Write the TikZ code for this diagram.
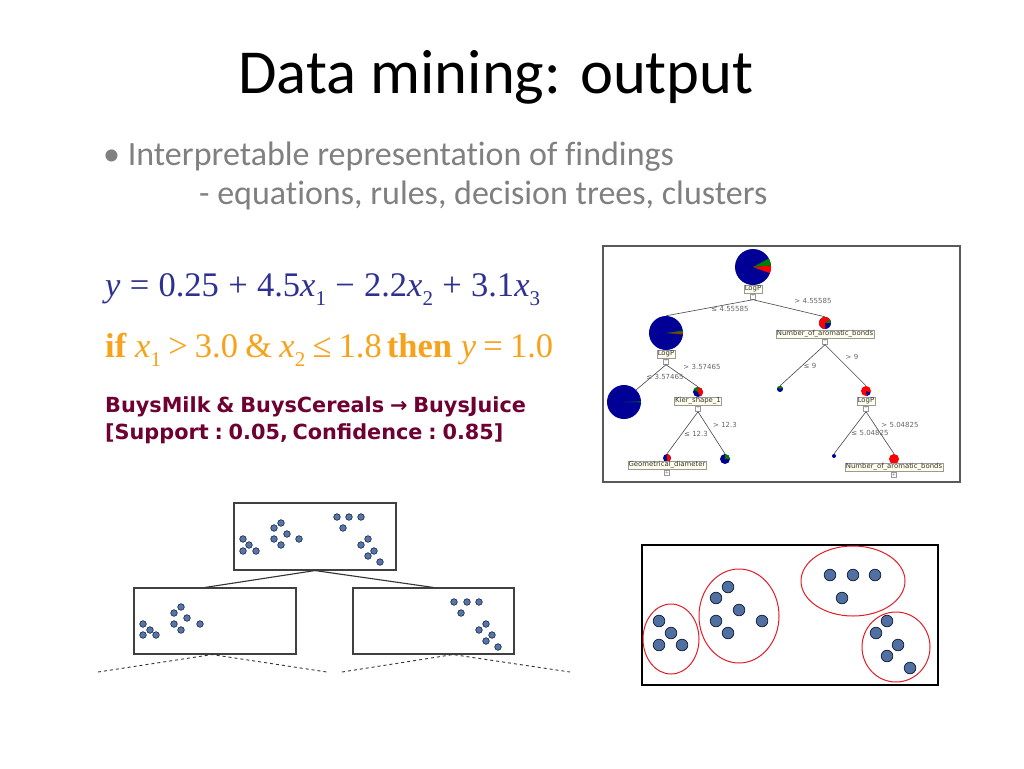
\documentclass[tikz,border=0pt]{standalone}
\usepackage{fontspec}
\setmainfont{Carlito}[Ligatures=NoCommon]
\newfontfamily\tms{Liberation Serif}
\newfontfamily\vrd{DejaVu Sans}
\usetikzlibrary{calc}
\definecolor{eqblue}{RGB}{46,49,146}
\definecolor{eqorange}{RGB}{247,162,27}
\definecolor{rulemaroon}{RGB}{110,0,50}
\definecolor{bodygray}{RGB}{128,128,128}
\definecolor{dotfill}{RGB}{85,118,170}
\definecolor{dotline}{RGB}{25,35,60}
\definecolor{clred}{RGB}{225,30,40}
\definecolor{pieblue}{RGB}{0,0,150}
\definecolor{piered}{RGB}{255,0,0}
\definecolor{piegreen}{RGB}{0,128,0}
\definecolor{boxfill}{RGB}{255,255,235}
\newcommand{\pieS}[5]{\fill[#5] (#1) -- ++(#3:#2) arc[start angle=#3,end angle=#4,radius=#2] -- cycle;}
\newcommand{\op}[1]{\hspace{0.27em}#1\hspace{0.27em}}
\newcommand{\opb}[1]{\hspace{0.21em}#1\hspace{0.21em}}
\newcommand{\sbs}[1]{\raisebox{-0.28em}{\fontsize{21}{21}\selectfont #1}}
\newcommand{\rop}[1]{\hspace{0.28em}#1\hspace{0.28em}}
\begin{document}
\begin{tikzpicture}[x=1pt,y=-1pt,
  dlabel/.style={draw=gray!80, fill=boxfill, inner sep=0.8pt, font=\vrd\fontsize{6.9}{7.5}\selectfont, text=black!80},
  tog/.style={draw=gray!80, fill=white, minimum size=5pt, inner sep=0pt, font=\vrd\fontsize{5}{5}\selectfont, text=gray},
  elab/.style={inner sep=0pt, font=\vrd\fontsize{7}{8}\selectfont, text=black!60},
  dedge/.style={draw=gray!55!black, line width=0.6pt},
  pie/.style={circle, inner sep=0pt, minimum size=#1, fill=pieblue},
  treebox/.style={draw=black!75, line width=1.1pt, rectangle, inner sep=0pt},
  tdot/.style={fill=dotfill, draw=dotline, line width=0.6pt},
  cdot/.style={fill=dotfill!95!black, draw=dotline, line width=0.8pt},
  cring/.style={draw=clred, line width=1pt}
]
\useasboundingbox[fill=white] (0,0) rectangle (1024,768);

% ---------- title and bullets ----------
\node[anchor=base, font=\fontsize{62.6}{70}\selectfont] (title) at (496,93) {Data mining: output};
\node[anchor=base west, inner sep=0pt, text=bodygray, font=\fontsize{34}{38}\selectfont] (b1) at (103,165) {\textbullet\ Interpretable representation of findings};
\node[anchor=base west, inner sep=0pt, text=bodygray, font=\fontsize{34}{38}\selectfont] (b2) at (199,204) {- equations, rules, decision trees, clusters};

% ---------- equations ----------
\node[anchor=base west, inner sep=0pt, text=eqblue, font=\tms\fontsize{34.5}{38}\selectfont] (eq1) at (105,296)
 {\textit{y}\op{=}0.25\op{+}4.5\textit{x}\sbs{1}\op{−}2.2\textit{x}\sbs{2}\op{+}3.1\textit{x}\sbs{3}};
\node[anchor=base west, inner sep=0pt, text=eqorange, font=\tms\fontsize{34.5}{38}\selectfont] (eq2) at (105,357)
 {\textbf{if}\hspace{0.25em}\textit{x}\sbs{1}\opb{>}3.0\opb{\&}\textit{x}\sbs{2}\opb{≤}1.8\hspace{0.15em}\textbf{then}\hspace{0.25em}\textit{y}\opb{=}1.0};
\node[anchor=base west, inner sep=0pt, text=rulemaroon, font=\vrd\bfseries\fontsize{20.8}{24}\selectfont] (r1) at (105,412)
 {BuysMilk\rop{\&}BuysCereals\rop{→}BuysJuice};
\node[anchor=base west, inner sep=0pt, text=rulemaroon, font=\vrd\bfseries\fontsize{20.8}{24}\selectfont] (r2) at (105,439)
 {[Support\rop{:}0.05,\hspace{0.22em}Confidence\rop{:}0.85]};

% ---------- decision tree picture ----------
\draw[draw=black!65, line width=1.5pt, fill=white] (603,246) rectangle (960,482);
% pies
\node[pie=36pt] (p0) at (753,267) {};
\pieS{p0.center}{18}{-5}{20}{piered}
\pieS{p0.center}{18}{-28}{-5}{piegreen}
\node[pie=34pt] (p1) at (666,333) {};
\pieS{p1.center}{17}{0}{5}{piered}
\pieS{p1.center}{17}{-8}{0}{piegreen}
\node[pie=12pt] (p2) at (825,323) {};
\pieS{p2.center}{6}{90}{330}{piered}
\pieS{p2.center}{6}{330}{360}{piegreen}
\node[pie=34pt] (p3) at (624,402) {};
\pieS{p3.center}{17}{-2}{1}{piegreen}
\node[pie=10pt] (p4) at (698,392) {};
\pieS{p4.center}{5}{-90}{60}{piered}
\pieS{p4.center}{5}{-150}{-90}{piegreen}
\node[pie=8pt] (p5) at (667,458) {};
\pieS{p5.center}{4}{-90}{90}{piered}
\node[pie=10pt] (p6) at (725,459) {};
\pieS{p6.center}{5}{-90}{0}{piegreen}
\node[pie=6pt] (p7) at (780,389) {};
\pieS{p7.center}{3}{-150}{-30}{piegreen}
\node[pie=10pt, fill=piered] (p8) at (866,391) {};
\pieS{p8.center}{5}{20}{80}{pieblue}
\node[pie=4pt] (p9) at (834,456) {};
\node[pie=10pt, fill=piered] (p10) at (894,459) {};
% labels and toggles
\node[dlabel] (L0) at (753,289) {LogP};
\node[tog] (t0) at (753,297) {-};
\node[dlabel] (L1) at (666,354) {LogP};
\node[tog] (t1) at (666,362) {-};
\node[dlabel] (L2) at (825,334) {Number\_of\_aromatic\_bonds};
\node[tog] (t2) at (825,342) {-};
\node[dlabel] (L4) at (698,401) {Kier\_shape\_1};
\node[tog] (t4) at (698,409) {-};
\node[dlabel] (L5) at (667,465) {Geometrical\_diameter};
\node[tog] (t5) at (667,473) {+};
\node[dlabel] (L8) at (866,401) {LogP};
\node[tog] (t8) at (866,409) {-};
\node[dlabel] (L10) at (894,467) {Number\_of\_aromatic\_bonds};
\node[tog] (t10) at (894,475) {+};
% edges
\draw[dedge] (t0.south) -- (p1.north);
\draw[dedge] (t0.south) -- (p2.north);
\draw[dedge] (t1.south) -- (p3.north east);
\draw[dedge] (t1.south) -- (p4.north);
\draw[dedge] (t4.south) -- (p5.north);
\draw[dedge] (t4.south) -- (p6.north);
\draw[dedge] (t2.south) -- (p7.north);
\draw[dedge] (t2.south) -- (p8.north);
\draw[dedge] (t8.south) -- (p9.north);
\draw[dedge] (t8.south) -- (p10.north);
% edge labels
\node[elab] (e1) at (730,309) {≤ 4.55585};
\node[elab] (e2) at (813,301) {> 4.55585};
\node[elab] (e3) at (665,377) {≤ 3.57465};
\node[elab] (e4) at (702,367) {> 3.57465};
\node[elab] (e5) at (696,434) {≤ 12.3};
\node[elab] (e6) at (725,425) {> 12.3};
\node[elab] (e7) at (810,366) {≤ 9};
\node[elab] (e8) at (852,357) {> 9};
\node[elab] (e9) at (870,433) {≤ 5.04825};
\node[elab] (e10) at (900,425) {> 5.04825};

% ---------- splitting tree (bottom left) ----------
\node[treebox, minimum width=162pt, minimum height=67pt] (tb) at (315,536.5) {};
\node[treebox, minimum width=162pt, minimum height=66pt] (lb) at (215,621) {};
\node[treebox, minimum width=161pt, minimum height=66pt] (rb) at (433.5,621) {};
\draw[black!80, line width=1.1pt] (tb.south) -- ($(lb.north)+(-10,0)$);
\draw[black!80, line width=1.1pt] (tb.south) -- (rb.north);
\coordinate (d1) at (98,672);
\coordinate (d2) at (327,672);
\coordinate (d3) at (342,672);
\coordinate (d4) at (570,672);
\draw[black!80, line width=0.9pt, dashed] (d1) -- ($(lb.south)+(-3,0)$) -- (d2);
\draw[black!80, line width=0.9pt, dashed] (d3) -- ($(rb.south)+(19.5,0)$) -- (d4);
\foreach \p in {(243,539),(249,545),(243,551),(256,551),(281,523),(274,528),(287,534),(274,539),(281,545),(299,539),
  (337,517),(349,517),(361,517),(343,528),(368,539),(361,545),(374,551),(368,556),(380,562),
  (143,624),(150,630),(143,635),(156,635),(181,607),(174,613),(187,618),(174,624),(181,630),(200,624),
  (454,602),(467,602),(479,602),(461,613),(486,624),(479,630),(492,635),(486,641),(498,647)}
  \draw[tdot] \p circle[radius=3.3];

% ---------- clusters (bottom right) ----------
\draw[black, line width=1.1pt] (642,545) rectangle (938,685);
\draw[cring] (671,639) ellipse[x radius=28, y radius=35];
\draw[cring] (739,616) ellipse[x radius=40, y radius=47];
\draw[cring] (853,581) ellipse[x radius=52, y radius=35];
\draw[cring] (896,647) ellipse[x radius=34, y radius=35];
\foreach \p in {(659,621),(671,633),(659,645),(682,645),
  (728,587),(716,598),(739,610),(716,621),(728,633),(762,621),
  (830,575),(853,575),(875,575),(842,598),
  (887,621),(876,633),(898,645),(887,656),(910,668)}
  \draw[cdot] \p circle[radius=5.8];
\end{tikzpicture}
\end{document}
